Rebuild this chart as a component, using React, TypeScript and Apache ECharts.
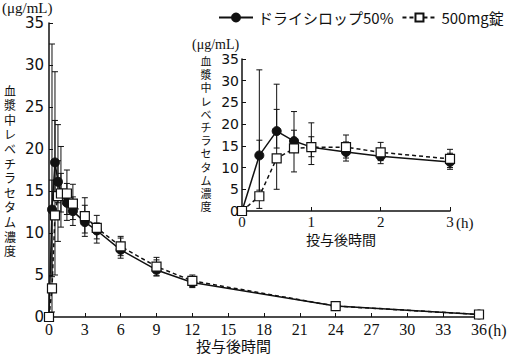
import React, { useEffect, useRef } from "react";
import * as echarts from "echarts";

const times = [0, 0.25, 0.5, 0.75, 1, 1.5, 2, 3, 4, 6, 9, 12, 24, 36];
const syrupMean = [0, 12.8, 18.4, 16.1, 14.7, 13.6, 12.6, 11.3, 10.3, 8.0, 5.6, 4.1, 1.3, 0.3];
const syrupLow = [0, 4.8, 14.5, 13.6, 12.5, 11.5, 10.9, 9.6, 8.8, 7.0, 4.9, 3.5, 1.1, 0.2];
const syrupHigh = [0, 32.5, 29.2, 22.9, 17.1, 15.9, 14.3, 13.3, 11.2, 9.4, 6.8, 4.7, 1.5, 0.4];
const tabMean = [0, 3.4, 12.1, 14.4, 14.7, 14.7, 13.5, 12.0, 10.6, 8.4, 6.0, 4.3, 1.3, 0.3];
const tabLow = [0, 0.6, 5.0, 9.0, 10.7, 12.2, 11.6, 10.0, 9.3, 7.3, 4.9, 3.6, 1.1, 0.2];
const tabHigh = [0, 16.3, 23.4, 18.6, 20.3, 17.5, 15.8, 14.2, 12.1, 9.6, 7.1, 5.0, 1.5, 0.4];

const syrupName = "ドライシロップ50%";
const tabName = "500mg錠";
const yTitle = "血漿中レベチラセタム濃度";
const xTitle = "投与後時間";
const unitY = "(μg/mL)";
const unitX = "(h)";

const CJK = "'Noto Sans CJK JP', sans-serif";
const SERIF = "'Liberation Serif', serif";
const SANS = "'DejaVu Sans', sans-serif";

function pts(mean: number[], maxT: number) {
  return times.map((t, i) => [t, mean[i]]).filter((p) => p[0] <= maxT);
}
function errs(lo: number[], hi: number[], maxT: number) {
  return times.map((t, i) => [t, lo[i], hi[i]]).filter((p) => p[0] <= maxT && p[2] > p[1]);
}

function errSeries(data: number[][], axis: number, cap: number) {
  return {
    type: "custom",
    xAxisIndex: axis,
    yAxisIndex: axis,
    z: 1,
    silent: true,
    data,
    encode: { x: 0, y: [1, 2] },
    renderItem: (params: any, api: any) => {
      const x = api.value(0);
      const p1 = api.coord([x, api.value(1)]);
      const p2 = api.coord([x, api.value(2)]);
      const st = { stroke: "#111", lineWidth: 1 };
      return {
        type: "group",
        children: [
          { type: "line", shape: { x1: p1[0], y1: p1[1], x2: p2[0], y2: p2[1] }, style: st },
          { type: "line", shape: { x1: p1[0] - cap, y1: p1[1], x2: p1[0] + cap, y2: p1[1] }, style: st },
          { type: "line", shape: { x1: p2[0] - cap, y1: p2[1], x2: p2[0] + cap, y2: p2[1] }, style: st },
        ],
      };
    },
  };
}

function lineSeries(name: string, data: number[][], axis: number, solid: boolean, size: number) {
  return {
    name,
    type: "line",
    xAxisIndex: axis,
    yAxisIndex: axis,
    z: 3,
    data,
    symbol: solid ? "circle" : "rect",
    symbolSize: size,
    lineStyle: { color: "#111", width: 1.5, type: solid ? "solid" : [4, 3] },
    itemStyle: solid
      ? { color: "#111", borderColor: "#111", borderWidth: 1 }
      : { color: "#fff", borderColor: "#111", borderWidth: 1.2 },
  };
}

function verticalTitle(x: number, y0: number, step: number, size: number) {
  return yTitle.split("").map((ch, i) => ({
    type: "text",
    x,
    y: y0 + i * step,
    style: { text: ch, font: `${size}px ${CJK}`, fill: "#111", align: "center", verticalAlign: "middle" },
  }));
}

export default function App() {
  const ref = useRef<HTMLDivElement>(null);
  useEffect(() => {
    if (!ref.current) return;
    document.body.style.margin = "0";
    const chart = echarts.init(ref.current, undefined, { renderer: "svg" });
    const axisLine = { show: true, lineStyle: { color: "#111", width: 1.5 } };
    const tick = (len: number) => ({ show: true, inside: true, length: len, lineStyle: { color: "#111", width: 1 } });
    chart.setOption({
      animation: false,
      backgroundColor: "#fff",
      legend: {
        left: 213,
        top: 5,
        itemWidth: 34,
        itemHeight: 10,
        itemGap: 8,
        data: [syrupName, tabName],
        textStyle: { fontFamily: CJK, fontSize: 15, color: "#111" },
      },
      grid: [
        { left: 49, top: 23, right: 32, bottom: 39, containLabel: false, outerBoundsMode: "none" },
        { left: 242, top: 59, width: 208, height: 152, containLabel: false, outerBoundsMode: "none" },
      ],
      xAxis: [
        {
          gridIndex: 0, type: "value", min: 0, max: 36, interval: 3,
          axisLine, axisTick: tick(4), splitLine: { show: false },
          axisLabel: { fontFamily: SERIF, fontSize: 16, color: "#111", margin: 4 },
        },
        {
          gridIndex: 1, type: "value", min: 0, max: 3, interval: 1,
          axisLine, axisTick: tick(4), splitLine: { show: false },
          axisLabel: { fontFamily: SERIF, fontSize: 15, color: "#111", margin: 3 },
        },
      ],
      yAxis: [
        {
          gridIndex: 0, type: "value", min: 0, max: 35, interval: 5,
          axisLine, axisTick: tick(4), splitLine: { show: false },
          axisLabel: { fontFamily: SANS, fontSize: 15, color: "#111", margin: 5 },
        },
        {
          gridIndex: 1, type: "value", min: 0, max: 35, interval: 5,
          axisLine, axisTick: tick(4), splitLine: { show: false },
          axisLabel: { fontFamily: SANS, fontSize: 14, color: "#111", margin: 3 },
        },
      ],
      series: [
        errSeries(errs(syrupLow, syrupHigh, 36), 0, 3),
        errSeries(errs(tabLow, tabHigh, 36), 0, 3),
        lineSeries(syrupName, pts(syrupMean, 36), 0, true, 9),
        lineSeries(tabName, pts(tabMean, 36), 0, false, 9),
        errSeries(errs(syrupLow, syrupHigh, 3), 1, 3),
        errSeries(errs(tabLow, tabHigh, 3), 1, 3),
        lineSeries(syrupName, pts(syrupMean, 3), 1, true, 9),
        lineSeries(tabName, pts(tabMean, 3), 1, false, 9),
      ],
      graphic: [
        { type: "text", left: 2, top: 0, style: { text: unitY, font: `15px ${SERIF}`, fill: "#111" } },
        { type: "text", left: 192, top: 37, style: { text: unitY, font: `14px ${SERIF}`, fill: "#111" } },
        { type: "text", left: 488, top: 322, style: { text: unitX, font: `16px ${SERIF}`, fill: "#111" } },
        { type: "text", left: 456, top: 215, style: { text: unitX, font: `15px ${SERIF}`, fill: "#111" } },
        ...verticalTitle(10, 90, 14.6, 12),
        ...verticalTitle(206, 61, 13.2, 11),
        { type: "text", left: 196, top: 338, style: { text: xTitle, font: `15px ${CJK}`, fill: "#111" } },
        { type: "text", left: 306, top: 232, style: { text: xTitle, font: `14px ${CJK}`, fill: "#111" } },
      ],
    });
    return () => chart.dispose();
  }, []);
  return <div ref={ref} style={{ width: 511, height: 356 }} />;
}
